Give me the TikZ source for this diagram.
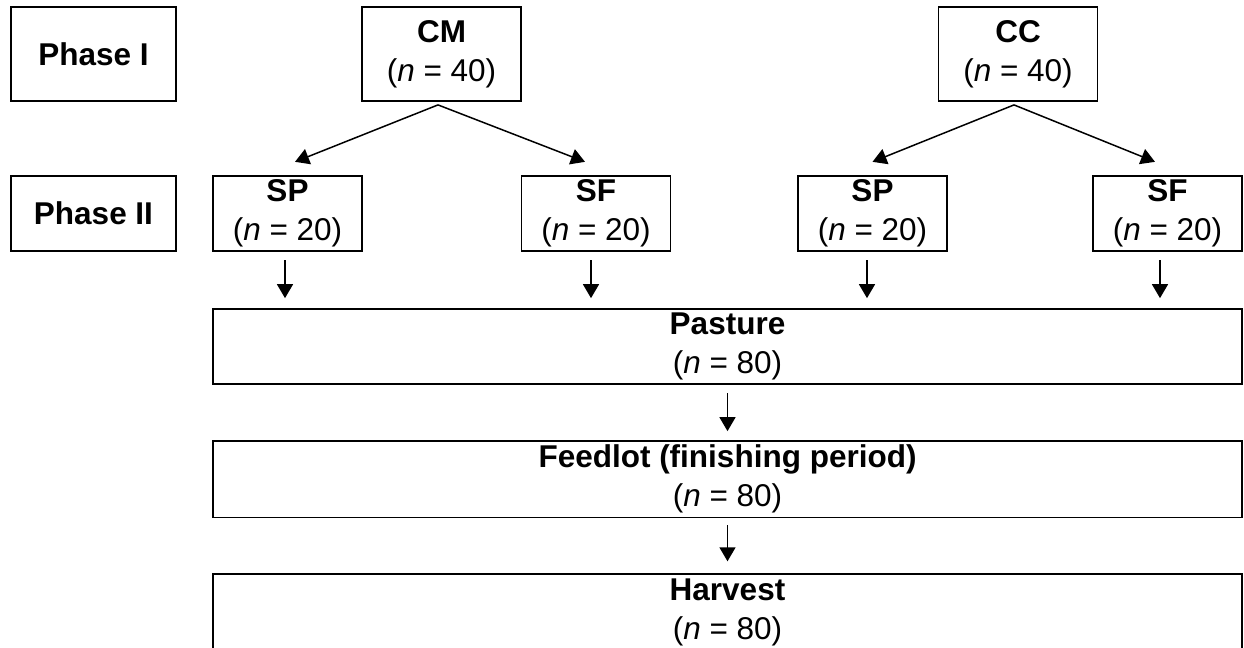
\documentclass[tikz,border=0pt]{standalone}
\usepackage{fontspec}
\setmainfont{Liberation Sans}
\usetikzlibrary{arrows.meta,positioning}
\tikzset{
 box/.style={draw, line width=0.9pt, align=center, inner sep=2pt, minimum height=37.5pt, font=\fontsize{15.75}{19.5}\selectfont},
 phasebox/.style={box, minimum width=82.5pt, font=\fontsize{15.75}{19}\selectfont\bfseries},
 groupbox/.style={box, minimum width=79.5pt, minimum height=47pt},
 dietbox/.style={box, minimum width=74.5pt},
 stagebox/.style={box, minimum width=514.5pt},
 arrow/.style={-{Triangle[length=7pt,width=8pt]}, line width=0.75pt}
}

\begin{document}
\begin{tikzpicture}[x=1pt,y=1pt,node distance=27.5pt]
\useasboundingbox (0,0) rectangle (622,-324);
% phase labels
\node[phasebox,minimum height=47pt] (ph1) at (46.75,-27) {Phase I};
\node[phasebox] (ph2) at (46.75,-106.75) {Phase II};
% phase I groups
\node[groupbox] (cm) at (220.75,-27) {\textbf{CM}\\(\textit{n} = 40)};
\node[groupbox] (cc) at (509,-27) {\textbf{CC}\\(\textit{n} = 40)};
% phase II groups
\node[dietbox] (sp1) at (143.75,-106.75) {\textbf{SP}\\(\textit{n} = 20)};
\node[dietbox] (sf1) at (298,-106.75) {\textbf{SF}\\(\textit{n} = 20)};
\node[dietbox] (sp2) at (436.25,-106.75) {\textbf{SP}\\(\textit{n} = 20)};
\node[dietbox] (sf2) at (583.75,-106.75) {\textbf{SF}\\(\textit{n} = 20)};
% common stages
\node[stagebox,below right=28pt and 0pt of sp1.south west] (pasture) {\textbf{Pasture}\\(\textit{n} = 80)};
\node[stagebox,below=of pasture] (feedlot) {\textbf{Feedlot (finishing period)}\\(\textit{n} = 80)};
\node[stagebox,below=of feedlot,minimum height=38pt] (harvest) {\textbf{Harvest}\\(\textit{n} = 80)};

\draw[arrow] ([shift={(-1.75pt,-1.5pt)}]cm.south) -- ([shift={(3.75pt,6.5pt)}]sp1.north);
\draw[arrow] ([shift={(-1.75pt,-1.5pt)}]cm.south) -- ([shift={(-5.5pt,6.5pt)}]sf1.north);
\draw[arrow] ([shift={(-2pt,-1.5pt)}]cc.south) -- ([shift={(0pt,6.5pt)}]sp2.north);
\draw[arrow] ([shift={(-2pt,-1.5pt)}]cc.south) -- ([shift={(-6.25pt,6.5pt)}]sf2.north);

\foreach \g/\dx in {sp1/-1.25,sf1/-2.5,sp2/-2.75,sf2/-3.75}
 \draw[arrow] ([shift={(\dx pt,-4pt)}]\g.south) -- ([shift={(\dx pt,5pt)}]\g.south |- pasture.north);

\draw[arrow] ([yshift=-4pt]pasture.south) -- ([yshift=4.5pt]feedlot.north);
\draw[arrow] ([yshift=-3.5pt]feedlot.south) -- ([yshift=6pt]harvest.north);
\end{tikzpicture}
\end{document}
